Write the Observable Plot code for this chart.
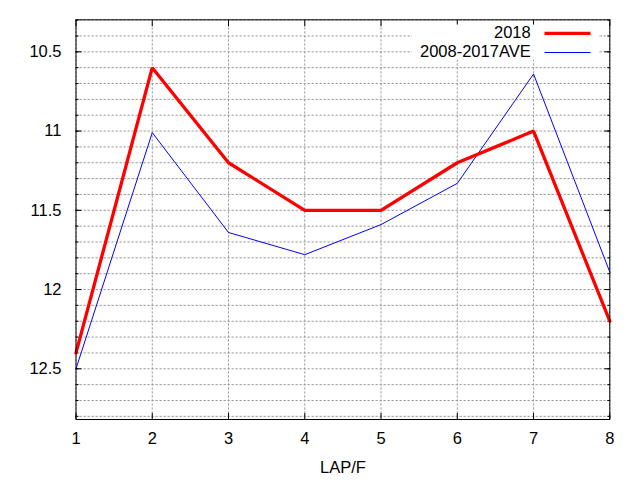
<!DOCTYPE html>
<html>
<head>
<meta charset="utf-8">
<script src="https://cdn.jsdelivr.net/npm/d3@7"></script>
<script src="https://cdn.jsdelivr.net/npm/@observablehq/plot@0.6"></script>
<style>
  html, body { margin: 0; padding: 0; background: white; }
</style>
</head>
<body>
<div id="chart"></div>
<script>
const laps = [1, 2, 3, 4, 5, 6, 7, 8];
const values2018 = [12.4, 10.6, 11.2, 11.5, 11.5, 11.2, 11.0, 12.2];
const valuesAve = [12.5, 11.01, 11.64, 11.78, 11.59, 11.33, 10.64, 11.89];
const seriesNames = ["2018", "2008-2017AVE"];
const seriesColors = ["#ff0000", "#0000ff"];
const seriesWidths = [3.3, 1];
const xTicks = [1, 2, 3, 4, 5, 6, 7, 8];
const yMajorTicks = [10.5, 11, 11.5, 12, 12.5];
const yMinorTicks = [10.3, 10.4, 10.5, 10.6, 10.7, 10.8, 10.9, 11, 11.1, 11.2, 11.3, 11.4, 11.5, 11.6, 11.7, 11.8, 11.9, 12, 12.1, 12.2, 12.3, 12.4, 12.5, 12.6, 12.7, 12.8];

const rows2018 = laps.map((lap, i) => ({lap, value: values2018[i]}));
const rowsAve = laps.map((lap, i) => ({lap, value: valuesAve[i]}));

const gridStyle = {stroke: "#999999", strokeOpacity: 1, strokeDasharray: "2.3,1.7", strokeWidth: 1};
const font = "'Liberation Sans', Arial, sans-serif";
const fs = 16.5;

const chart = Plot.plot({
  width: 640,
  height: 480,
  marginLeft: 75.5,
  marginRight: 30.7,
  marginTop: 19.3,
  marginBottom: 61,
  style: {fontFamily: font, fontSize: fs + "px", background: "white", color: "black", overflow: "visible"},
  x: {domain: [1, 8]},
  y: {domain: [10.298, 12.82], reverse: true},
  marks: [
    Plot.gridX(xTicks, gridStyle),
    Plot.gridY(yMinorTicks, gridStyle),
    Plot.axisY(yMajorTicks, {anchor: "left", tickSize: 0, tickPadding: 14.5, label: null, fontSize: fs, fill: "black", tickFormat: (d) => String(d)}),
    Plot.axisX(xTicks, {anchor: "bottom", tickSize: 0, tickPadding: 12.5, label: null, fontSize: fs, fill: "black", tickFormat: (d) => String(d)}),
    Plot.axisY(yMajorTicks, {anchor: "left", tickSize: 6, dx: 6, text: null, label: null, stroke: "black"}),
    Plot.axisY(yMinorTicks, {anchor: "left", tickSize: 3, dx: 3, text: null, label: null, stroke: "black"}),
    Plot.axisY(yMajorTicks, {anchor: "right", tickSize: 6, dx: -6, text: null, label: null, stroke: "black"}),
    Plot.axisY(yMinorTicks, {anchor: "right", tickSize: 3, dx: -3, text: null, label: null, stroke: "black"}),
    Plot.axisX(xTicks, {anchor: "bottom", tickSize: 6, dy: -6, text: null, label: null, stroke: "black"}),
    Plot.axisX(xTicks, {anchor: "top", tickSize: 6, dy: 6, text: null, label: null, stroke: "black"}),
    Plot.line(rowsAve, {x: "lap", y: "value", stroke: seriesColors[1], strokeWidth: seriesWidths[1], strokeLinejoin: "miter"}),
    Plot.line(rows2018, {x: "lap", y: "value", stroke: seriesColors[0], strokeWidth: seriesWidths[0], strokeLinejoin: "miter"}),
    Plot.text(["LAP/F"], {frameAnchor: "bottom", lineAnchor: "middle", dy: 48, fontSize: fs, fill: "black"}),
    Plot.frame({stroke: "black", strokeWidth: 1})
  ]
});

// Legend (gnuplot-style, top right inside the plot, with opaque background)
const firstLine = chart.querySelector('g[aria-label="line"]');
const legend = d3.create("svg:g").attr("font-family", font).attr("font-size", fs);
legend.append("rect").attr("x", 412).attr("y", 24.5).attr("width", 186).attr("height", 35).attr("fill", "white");
const rowY = [32.3, 51.5];
seriesNames.forEach((name, i) => {
  legend.append("text")
    .attr("x", 530.7).attr("y", rowY[i]).attr("dy", "0.35em")
    .attr("text-anchor", "end").attr("fill", "black").text(name);
  legend.append("line")
    .attr("x1", 544.5).attr("x2", 590.5).attr("y1", rowY[i] + 1).attr("y2", rowY[i] + 1)
    .attr("stroke", seriesColors[i]).attr("stroke-width", seriesWidths[i]);
});
chart.insertBefore(legend.node(), firstLine);

document.getElementById("chart").appendChild(chart);
</script>
</body>
</html>
